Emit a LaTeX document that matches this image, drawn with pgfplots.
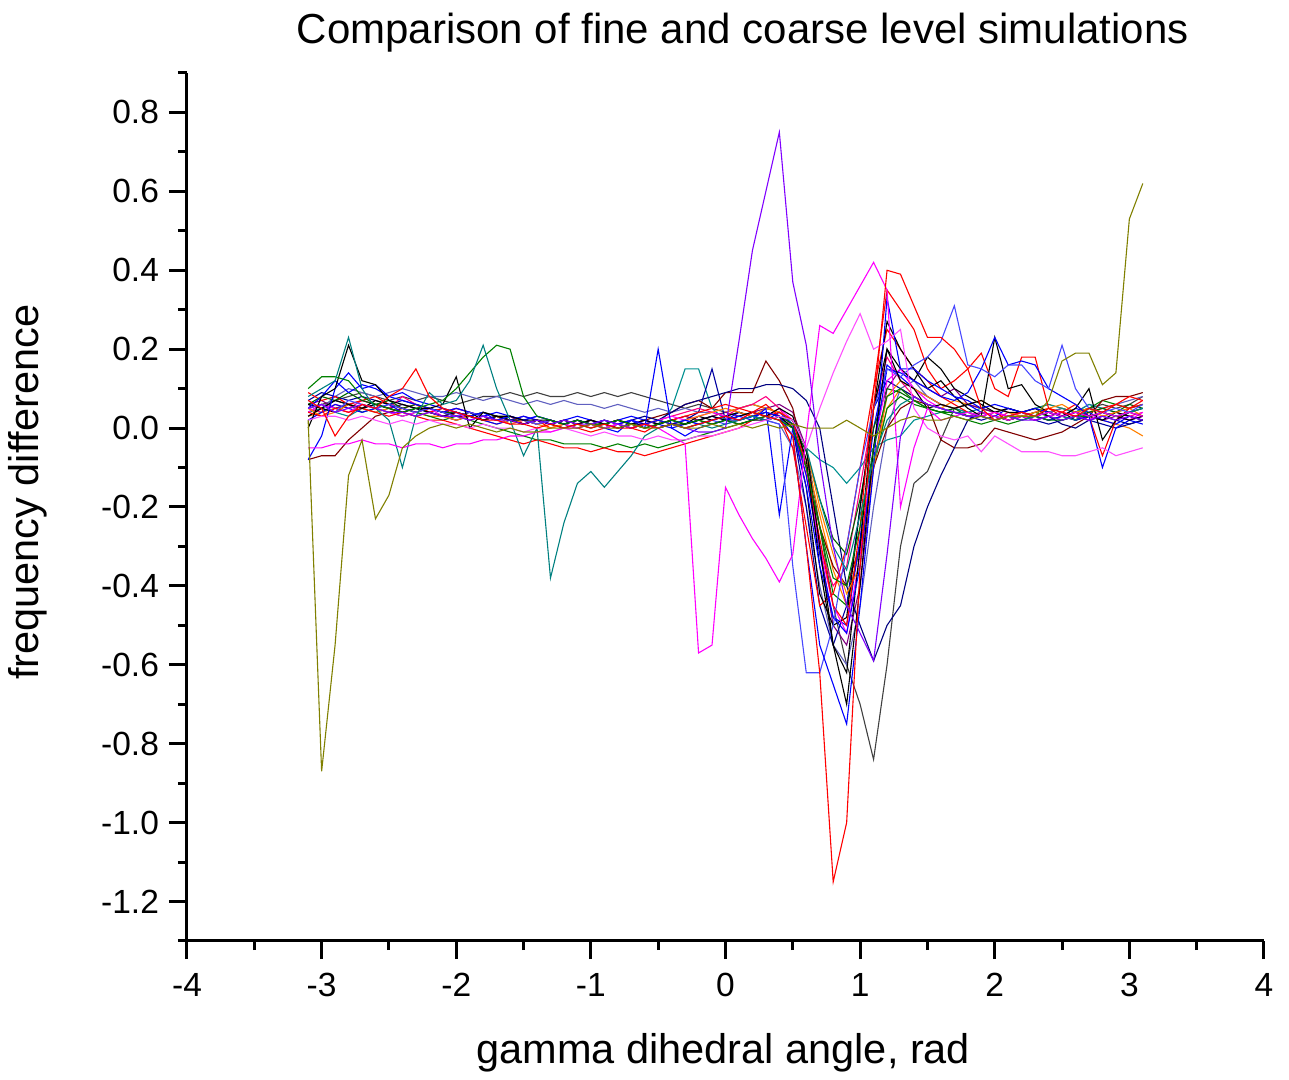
\documentclass[border=0pt]{standalone}
\usepackage{fontspec}
\setmainfont{Liberation Sans}
\usepackage{pgfplots}
\usepackage{pgfplotstable}
\pgfplotsset{compat=1.18}

\definecolor{colive}{HTML}{808000}
\definecolor{cviolet}{HTML}{8000FF}
\definecolor{cteal}{HTML}{008080}
\definecolor{cgreen}{HTML}{008000}
\definecolor{cgreenb}{HTML}{006400}
\definecolor{cmag}{HTML}{FF00FF}
\definecolor{cpink}{HTML}{FF50FF}
\definecolor{cred}{HTML}{FF0000}
\definecolor{cgrey}{HTML}{404040}
\definecolor{cblue}{HTML}{0000FF}
\definecolor{clblue}{HTML}{4848FF}
\definecolor{cnavy}{HTML}{000080}
\definecolor{corange}{HTML}{FF8000}
\definecolor{cdred}{HTML}{800000}
\definecolor{crose}{HTML}{FF0080}
\definecolor{cslate}{HTML}{6060C0}
\definecolor{cdcyan}{HTML}{009090}
\definecolor{cpurple}{HTML}{800080}
\definecolor{cblue3}{HTML}{0000A0}

\pgfplotstableread[header=false,row sep=\\]{
x -3.1 -3.0 -2.9 -2.8 -2.7 -2.6 -2.5 -2.4 -2.3 -2.2 -2.1 -2.0 -1.9 -1.8 -1.7 -1.6 -1.5 -1.4 -1.3 -1.2 -1.1 -1.0 -0.9 -0.8 -0.7 -0.6 -0.5 -0.4 -0.3 -0.2 -0.1 0.0 0.1 0.2 0.3 0.4 0.5 0.6 0.7 0.8 0.9 1.0 1.1 1.2 1.3 1.4 1.5 1.6 1.7 1.8 1.9 2.0 2.1 2.2 2.3 2.4 2.5 2.6 2.7 2.8 2.9 3.0 3.1 \\
s1 0.02 -0.87 -0.55 -0.12 -0.03 -0.23 -0.17 -0.05 -0.02 0.00
0.01 0.00 0.01 0.00 -0.01 0.00 -0.01 -0.01 0.00 0.00
0.00 0.01 0.00 0.00 0.01 0.00 0.00 0.01 0.00 0.00
0.01 0.00 0.01 0.00 0.01 0.00 0.01 0.00 0.00 0.00
0.02 0.00 -0.02 0.00 0.02 0.03 0.02 0.02 0.03 0.02
0.03 0.02 0.03 0.03 0.03 0.07 0.17 0.19 0.19 0.11
0.14 0.53 0.62 \\
s2 0.05 0.06 0.04 0.05 0.06 0.05 0.04 0.04 0.03 0.04
0.03 0.03 0.02 0.03 0.02 0.02 0.01 0.02 0.01 0.02
0.01 0.01 0.02 0.01 0.00 0.01 0.00 0.01 0.00 -0.01
-0.01 0.00 0.22 0.45 0.60 0.75 0.37 0.21 -0.08 -0.30
-0.45 -0.52 -0.59 -0.32 -0.02 0.08 0.06 0.05 0.04 0.03
0.03 0.02 0.03 0.02 0.02 0.03 0.02 0.03 0.02 0.03
0.02 0.03 0.02 \\
s3 0.08 0.10 0.12 0.23 0.10 0.05 0.02 -0.10 0.03 0.09
0.06 0.07 0.12 0.21 0.10 0.02 -0.07 0.00 -0.38 -0.24
-0.14 -0.11 -0.15 -0.11 -0.07 -0.02 0.00 0.01 0.00 0.01
0.00 0.01 0.02 0.03 0.02 0.03 0.02 -0.05 -0.18 -0.30
-0.36 -0.22 -0.08 0.02 0.06 0.08 0.06 0.05 0.04 0.04
0.03 0.02 0.03 0.02 0.03 0.04 0.03 0.02 0.05 0.04
0.03 0.04 0.05 \\
s4 0.10 0.13 0.13 0.12 0.08 0.06 0.05 0.04 0.05 0.06
0.07 0.10 0.14 0.18 0.21 0.20 0.08 0.03 0.02 0.01
0.02 0.01 0.01 0.02 0.01 0.00 0.01 0.02 0.01 0.02
0.01 0.02 0.01 0.02 0.03 0.02 0.00 -0.10 -0.25 -0.38
-0.40 -0.25 -0.05 0.08 0.10 0.07 0.05 0.04 0.04 0.03
0.03 0.02 0.03 0.02 0.03 0.02 0.02 0.03 0.03 0.04
0.03 0.04 0.05 \\
s5 -0.05 -0.05 -0.04 -0.04 -0.03 -0.04 -0.04 -0.05 -0.04 -0.04
-0.05 -0.04 -0.04 -0.03 -0.03 -0.02 -0.02 -0.01 -0.01 0.00
0.00 0.01 0.00 0.01 0.00 0.01 0.00 -0.02 -0.04 -0.57
-0.55 -0.15 -0.22 -0.28 -0.33 -0.39 -0.32 -0.02 0.26 0.24
0.30 0.36 0.42 0.35 -0.20 -0.05 0.05 0.02 0.03 0.04
0.03 0.04 0.03 0.04 0.03 0.04 0.03 0.04 0.03 0.04
0.03 0.04 0.03 \\
s6 0.02 0.03 0.03 0.02 0.03 0.02 0.01 0.02 0.01 0.02
0.01 0.01 0.00 0.01 0.00 0.00 -0.01 0.00 -0.01 0.00
-0.01 -0.02 -0.01 -0.02 -0.02 -0.03 -0.02 -0.03 -0.03 -0.02
-0.02 -0.01 0.00 0.01 0.02 0.03 0.02 -0.05 0.05 0.14
0.22 0.29 0.20 0.22 0.25 0.05 0.00 -0.02 -0.03 -0.02
-0.06 -0.02 -0.04 -0.06 -0.06 -0.06 -0.07 -0.07 -0.06 -0.05
-0.07 -0.06 -0.05 \\
s7 0.07 0.05 -0.02 0.03 0.06 0.05 0.08 0.10 0.15 0.08
0.05 0.04 0.03 0.02 0.02 0.01 0.01 0.00 0.01 0.00
0.01 0.00 0.01 0.00 0.00 0.01 0.00 0.01 0.00 0.01
0.02 0.03 0.02 0.04 0.03 0.02 -0.02 -0.30 -0.62 -1.15
-1.00 -0.35 0.05 0.40 0.39 0.31 0.23 0.23 0.20 0.15
0.05 0.02 0.03 0.04 0.03 0.05 0.04 0.03 0.05 0.04
0.06 0.05 0.07 \\
s8 0.00 0.08 0.10 0.21 0.12 0.11 0.07 0.06 0.05 0.05
0.06 0.13 0.00 0.04 0.03 0.03 0.02 0.02 0.02 0.01
0.02 0.01 0.01 0.02 0.01 0.01 0.00 0.01 0.01 0.02
0.01 0.02 0.01 0.02 0.02 0.03 0.02 -0.05 -0.30 -0.55
-0.70 -0.40 -0.05 0.20 0.12 0.10 0.05 0.06 0.05 0.06
0.07 0.05 0.04 0.04 0.03 0.04 0.03 0.04 0.03 0.04
0.03 0.02 0.03 \\
s9 0.04 0.06 0.07 0.08 0.09 0.08 0.07 0.08 0.07 0.08
0.07 0.06 0.07 0.08 0.08 0.09 0.08 0.09 0.08 0.08
0.09 0.08 0.09 0.08 0.09 0.08 0.07 0.06 0.05 0.06
0.05 0.04 0.05 0.06 0.05 0.04 0.02 -0.05 -0.25 -0.45
-0.60 -0.70 -0.84 -0.60 -0.30 -0.14 -0.11 -0.03 0.05 0.06
0.05 0.04 0.05 0.04 0.03 0.04 0.05 0.04 0.05 0.06
0.05 0.06 0.08 \\
s10 -0.08 -0.02 0.10 0.14 0.10 0.11 0.08 0.09 0.07 0.06
0.05 0.04 0.03 0.04 0.02 0.03 0.02 0.03 0.02 0.01
0.02 0.01 0.02 0.01 0.02 0.01 0.02 0.01 0.02 0.01
0.02 0.03 0.02 0.03 0.04 0.03 -0.02 -0.30 -0.55 -0.65
-0.75 -0.45 -0.10 0.33 0.15 0.15 0.12 0.10 0.08 0.07
0.05 0.06 0.05 0.04 0.05 0.04 0.03 0.02 0.03 0.04
0.03 0.04 0.05 \\
s11 0.05 0.06 0.04 0.07 0.06 0.05 0.06 0.05 0.04 0.05
0.04 0.03 0.04 0.03 0.02 0.03 0.02 0.01 0.02 0.01
0.02 0.01 0.00 0.01 0.02 0.01 0.00 0.01 0.02 0.01
0.02 0.01 0.02 0.03 0.02 0.01 -0.35 -0.62 -0.62 -0.50
-0.30 -0.10 0.05 0.15 0.13 0.16 0.18 0.22 0.31 0.16
0.15 0.13 0.16 0.16 0.12 0.10 0.21 0.10 0.05 0.04
0.05 0.04 0.06 \\
s12 0.06 0.05 0.07 0.06 0.05 0.06 0.05 0.04 0.05 0.04
0.03 0.04 0.03 0.02 0.03 0.02 0.02 0.01 0.02 0.01
0.02 0.01 0.02 0.01 0.02 0.03 0.02 0.04 0.06 0.07
0.08 0.09 0.10 0.10 0.11 0.11 0.10 0.07 0.00 -0.20
-0.40 -0.50 -0.59 -0.50 -0.45 -0.30 -0.20 -0.12 -0.05 0.02
0.04 0.03 0.02 0.03 0.02 0.03 0.01 0.00 0.02 0.03
0.02 0.01 0.02 \\
s13 0.03 0.04 0.05 0.04 0.06 0.05 0.04 0.05 0.04 0.03
0.03 0.02 0.03 0.02 0.01 0.02 0.01 0.02 0.01 0.00
0.01 0.00 0.01 0.02 0.01 0.00 0.01 0.02 0.03 0.02
0.03 0.04 0.05 0.06 0.05 0.04 0.02 -0.08 -0.22 -0.36
-0.45 -0.30 -0.08 0.05 0.10 0.08 0.06 0.05 0.07 0.06
0.05 0.04 0.03 0.04 0.05 0.06 0.05 0.04 0.03 0.02
0.01 0.00 -0.02 \\
s14 -0.08 -0.07 -0.07 -0.03 0.00 0.03 0.04 0.05 0.04 0.05
0.04 0.03 0.03 0.02 0.03 0.02 0.01 0.02 0.01 0.02
0.01 0.02 0.01 0.00 0.01 0.02 0.03 0.04 0.06 0.07
0.05 0.09 0.09 0.09 0.17 0.12 0.05 -0.10 -0.25 -0.35
-0.40 -0.30 -0.10 0.00 0.05 0.07 0.06 -0.03 -0.05 -0.05
-0.04 0.00 -0.01 -0.02 -0.03 -0.02 -0.01 0.01 0.03 0.07
0.08 0.08 0.09 \\
s15 0.05 0.08 0.12 0.09 0.11 0.10 0.08 0.07 0.06 0.05
0.04 0.05 0.04 0.03 0.04 0.03 0.02 0.03 0.02 0.01
0.02 0.01 0.00 -0.01 0.02 0.00 0.20 0.00 -0.02 0.00
0.01 0.02 0.03 0.02 0.05 -0.22 0.00 -0.15 -0.35 -0.48
-0.52 -0.35 -0.05 0.15 0.14 0.12 0.10 0.08 0.07 0.09
0.15 0.23 0.16 0.17 0.16 0.10 0.08 0.06 0.03 -0.10
0.00 0.02 0.01 \\
s16 0.06 0.05 0.07 0.06 0.05 0.06 0.05 0.04 0.05 0.04
0.03 0.04 0.03 0.02 0.03 0.02 0.01 0.02 0.01 0.02
0.01 0.02 0.01 0.02 0.01 0.00 0.01 0.02 0.01 0.02
0.03 0.02 0.03 0.04 0.03 0.05 0.03 -0.08 -0.35 -0.55
-0.62 -0.30 0.05 0.27 0.20 0.15 0.10 0.12 0.08 0.05
0.03 0.23 0.10 0.11 0.06 0.04 0.03 0.05 0.10 -0.03
0.02 0.04 0.03 \\
s17 0.04 0.03 0.05 0.04 0.05 0.04 0.03 0.04 0.03 0.02
0.02 0.01 0.00 -0.01 -0.02 -0.03 -0.04 -0.03 -0.04 -0.05
-0.05 -0.06 -0.05 -0.06 -0.06 -0.07 -0.06 -0.05 -0.04 -0.03
-0.02 -0.01 0.00 0.02 0.03 0.04 0.02 -0.10 -0.28 -0.45
-0.50 -0.25 0.10 0.35 0.30 0.25 0.15 0.10 0.12 0.15
0.19 0.10 0.08 0.18 0.18 0.05 0.04 0.06 0.03 -0.07
0.02 0.05 0.06 \\
s18 0.05 0.04 0.06 0.05 0.07 0.06 0.05 0.08 0.06 0.05
0.04 0.05 0.04 0.03 0.02 0.03 0.02 0.01 0.02 0.01
0.00 0.01 0.00 0.01 0.00 0.01 0.02 0.03 0.04 0.05
0.04 0.03 0.05 0.06 0.08 0.05 0.00 -0.12 -0.30 -0.40
-0.35 -0.15 0.05 0.18 0.12 0.08 0.06 0.05 0.04 0.03
0.03 0.02 0.04 0.03 0.02 0.03 0.04 0.03 0.02 0.03
0.04 0.03 0.04 \\
s19 0.03 0.05 0.08 0.10 0.09 0.08 0.09 0.10 0.09 0.08
0.08 0.09 0.08 0.07 0.08 0.07 0.06 0.07 0.06 0.07
0.06 0.06 0.05 0.06 0.05 0.04 0.05 0.04 0.05 0.04
0.04 0.03 0.04 0.03 0.02 0.01 -0.05 -0.20 -0.40 -0.55
-0.60 -0.45 -0.20 0.00 0.10 0.12 0.08 0.06 0.05 0.04
0.03 0.04 0.03 0.04 0.05 0.04 0.05 0.04 0.06 0.05
0.06 0.07 0.08 \\
s20 0.05 0.06 0.05 0.06 0.04 0.05 0.04 0.03 0.04 0.03
0.02 0.03 0.02 0.01 0.00 -0.01 -0.02 -0.03 -0.03 -0.04
-0.04 -0.04 -0.05 -0.04 -0.05 -0.04 -0.05 -0.04 -0.03 -0.02
-0.01 0.00 0.01 0.02 0.03 0.02 0.00 -0.10 -0.25 -0.42
-0.45 -0.30 -0.10 0.05 0.08 0.06 0.05 0.04 0.03 0.02
0.01 0.02 0.01 0.02 0.03 0.02 0.03 0.04 0.05 0.07
0.06 0.05 0.06 \\
s21 0.04 0.05 0.04 0.03 0.05 0.04 0.05 0.06 0.05 0.04
0.03 0.04 0.03 0.02 0.03 0.02 0.01 0.02 0.01 0.00
0.01 0.00 0.01 0.00 0.01 0.02 0.01 0.05 0.15 0.15
0.05 0.02 0.03 0.04 0.03 0.02 -0.02 -0.05 -0.08 -0.10
-0.14 -0.10 -0.05 -0.03 -0.02 0.02 0.03 0.04 0.05 0.04
0.05 0.04 0.03 0.04 0.05 0.06 0.05 0.04 0.06 0.05
0.04 0.05 0.06 \\
s22 0.06 0.07 0.05 0.06 0.07 0.06 0.05 0.06 0.05 0.04
0.05 0.04 0.03 0.04 0.03 0.02 0.03 0.02 0.01 0.02
0.01 0.02 0.01 0.02 0.01 0.02 0.01 0.02 0.03 0.02
0.03 0.04 0.03 0.04 0.05 0.06 0.04 -0.05 -0.30 -0.50
-0.55 -0.40 -0.10 0.10 0.15 0.12 0.10 0.08 0.10 0.06
0.05 0.04 0.03 0.04 0.03 0.02 0.03 0.04 0.03 0.02
0.03 0.02 0.03 \\
s23 0.07 0.09 0.08 0.07 0.08 0.07 0.06 0.07 0.06 0.05
0.04 0.05 0.04 0.03 0.02 0.03 0.02 0.01 0.02 0.01
0.02 0.01 0.00 0.01 0.00 0.01 0.00 0.01 0.02 0.04
0.15 0.02 0.02 0.03 0.02 0.03 0.00 -0.20 -0.45 -0.55
-0.45 -0.20 0.05 0.12 0.10 0.08 0.06 0.05 0.04 0.03
0.02 0.03 0.02 0.03 0.02 0.01 0.02 0.03 0.02 0.01
0.00 0.01 0.02 \\
s24 0.09 0.07 0.08 0.06 0.07 0.08 0.06 0.05 0.06 0.04
0.05 0.03 0.04 0.03 0.02 0.03 0.01 0.02 0.00 0.01
0.00 -0.01 0.00 0.01 0.00 -0.01 0.01 0.02 0.03 0.04
0.05 0.06 0.05 0.04 0.06 0.03 -0.05 -0.25 -0.45 -0.42
-0.30 -0.10 0.10 0.25 0.20 0.15 0.12 0.08 0.06 0.04
0.03 0.04 0.02 0.03 0.04 0.05 0.03 0.02 0.04 0.05
0.06 0.08 0.07 \\
s25 0.02 0.04 0.06 0.05 0.04 0.05 0.06 0.04 0.03 0.04
0.03 0.02 0.03 0.02 0.01 0.02 0.03 0.02 0.01 0.02
0.03 0.02 0.01 0.02 0.03 0.02 0.01 0.00 0.01 0.02
0.03 0.02 0.04 0.03 0.02 0.04 0.01 -0.12 -0.32 -0.48
-0.50 -0.28 0.00 0.16 0.13 0.10 0.08 0.06 0.05 0.06
0.04 0.03 0.05 0.04 0.03 0.02 0.03 0.05 0.04 0.02
0.01 0.03 0.02 \\
s26 0.06 0.08 0.07 0.09 0.07 0.06 0.07 0.05 0.06 0.05
0.04 0.04 0.03 0.04 0.03 0.02 0.02 0.01 0.02 0.01
0.00 0.01 0.02 0.01 0.00 0.01 0.02 0.01 0.00 0.01
0.02 0.03 0.02 0.03 0.02 0.03 0.01 -0.06 -0.18 -0.28
-0.32 -0.18 0.00 0.10 0.09 0.07 0.05 0.04 0.05 0.03
0.04 0.03 0.02 0.03 0.04 0.03 0.02 0.03 0.04 0.05
0.04 0.06 0.05 \\
s27 0.03 0.05 0.04 0.06 0.05 0.07 0.06 0.05 0.04 0.05
0.04 0.03 0.04 0.02 0.03 0.02 0.01 0.02 0.01 0.00
0.01 0.02 0.01 0.00 0.01 0.02 0.01 0.02 0.01 0.03
0.02 0.03 0.04 0.03 0.04 0.03 0.00 -0.15 -0.42 -0.50
-0.48 -0.20 0.05 0.20 0.15 0.12 0.18 0.15 0.10 0.08
0.06 0.04 0.05 0.04 0.05 0.03 0.04 0.02 0.03 0.02
0.04 0.03 0.02 \\
s28 0.04 0.06 0.05 0.04 0.06 0.05 0.04 0.03 0.04 0.05
0.03 0.04 0.02 0.03 0.02 0.01 0.02 0.01 0.02 0.01
0.00 0.01 0.00 0.01 0.02 0.01 0.02 0.03 0.02 0.03
0.04 0.03 0.02 0.04 0.03 0.05 0.02 -0.10 -0.30 -0.45
-0.52 -0.32 -0.05 0.12 0.15 0.10 0.07 0.05 0.04 0.03
0.04 0.03 0.02 0.03 0.02 0.03 0.04 0.03 0.02 0.04
0.03 0.02 0.04 \\
s29 0.05 0.03 0.04 0.06 0.05 0.04 0.05 0.04 0.03 0.04
0.03 0.02 0.03 0.02 0.03 0.01 0.02 0.01 0.00 0.01
0.02 0.01 0.00 0.01 0.00 0.01 0.02 0.01 0.02 0.03
0.04 0.05 0.04 0.03 0.05 0.04 0.02 -0.05 -0.20 -0.32
-0.42 -0.35 -0.10 0.08 0.12 0.10 0.08 0.06 0.05 0.06
0.07 0.05 0.04 0.03 0.04 0.05 0.06 0.04 0.05 0.03
0.04 0.05 0.03 \\
}\rawdata
\pgfplotstabletranspose[colnames from=0]{\data}{\rawdata}

\begin{document}
\begin{tikzpicture}
\path[use as bounding box] (-93.5pt,-69.5pt) rectangle (551pt,470.5pt);
\begin{axis}[
  at={(0pt,0pt)}, anchor=south west,
  scale only axis, width=538.5pt, height=434pt,
  xmin=-4, xmax=4, ymin=-1.3, ymax=0.9,
  axis x line*=bottom, axis y line*=left,
  axis line style={-, line width=1.5pt, black},
  tick align=outside,
  major tick length=9pt, minor tick length=4.5pt,
  every tick/.style={line width=1.5pt, black},
  xtick={-4,-3,-2,-1,0,1,2,3,4},
  minor xtick={-3.5,-2.5,-1.5,-0.5,0.5,1.5,2.5,3.5},
  ytick={-1.2,-1.0,-0.8,-0.6,-0.4,-0.2,0,0.2,0.4,0.6,0.8},
  minor ytick={-1.3,-1.1,-0.9,-0.7,-0.5,-0.3,-0.1,0.1,0.3,0.5,0.7,0.9},
  /pgf/number format/assume math mode=true,
  yticklabel style={/pgf/number format/.cd, fixed, fixed zerofill, precision=1, /tikz/xshift=-1.5pt},
  xticklabel style={yshift=-3.5pt},
  ticklabel style={font=\fontsize{16.75}{20}\selectfont},
  title={Comparison of fine and coarse level simulations},
  title style={at={(axis description cs:0.516,1.0196)}, anchor=base, font=\fontsize{21}{25}\selectfont},
  xlabel={gamma dihedral angle, rad},
  xlabel style={at={(axis description cs:0.498,-0.1406)}, anchor=base, font=\fontsize{20.75}{25}\selectfont},
  ylabel={frequency difference},
  ylabel style={at={(axis description cs:-0.1375,0.517)}, anchor=base, font=\fontsize{20.75}{25}\selectfont},
  every axis plot/.append style={line width=0.55pt},
]
\addplot[cgrey] table[x=x,y=s9]{\data};
\addplot[cslate] table[x=x,y=s19]{\data};
\addplot[corange] table[x=x,y=s13]{\data};
\addplot[cgreen] table[x=x,y=s20]{\data};
\addplot[cdcyan] table[x=x,y=s21]{\data};
\addplot[cpurple] table[x=x,y=s22]{\data};
\addplot[cblue3] table[x=x,y=s23]{\data};
\addplot[crose] table[x=x,y=s18]{\data};
\addplot[cdred] table[x=x,y=s14]{\data};
\addplot[cnavy] table[x=x,y=s12]{\data};
\addplot[cred] table[x=x,y=s24]{\data};
\addplot[cblue] table[x=x,y=s25]{\data};
\addplot[cgreenb] table[x=x,y=s26]{\data};
\addplot[black] table[x=x,y=s27]{\data};
\addplot[cmag] table[x=x,y=s28]{\data};
\addplot[corange] table[x=x,y=s29]{\data};
\addplot[cred] table[x=x,y=s17]{\data};
\addplot[black] table[x=x,y=s16]{\data};
\addplot[cblue] table[x=x,y=s15]{\data};
\addplot[clblue] table[x=x,y=s11]{\data};
\addplot[cblue] table[x=x,y=s10]{\data};
\addplot[black] table[x=x,y=s8]{\data};
\addplot[cgreen] table[x=x,y=s4]{\data};
\addplot[cteal] table[x=x,y=s3]{\data};
\addplot[cpink] table[x=x,y=s6]{\data};
\addplot[cmag] table[x=x,y=s5]{\data};
\addplot[cviolet] table[x=x,y=s2]{\data};
\addplot[cred] table[x=x,y=s7]{\data};
\addplot[colive] table[x=x,y=s1]{\data};
\end{axis}
\end{tikzpicture}
\end{document}
